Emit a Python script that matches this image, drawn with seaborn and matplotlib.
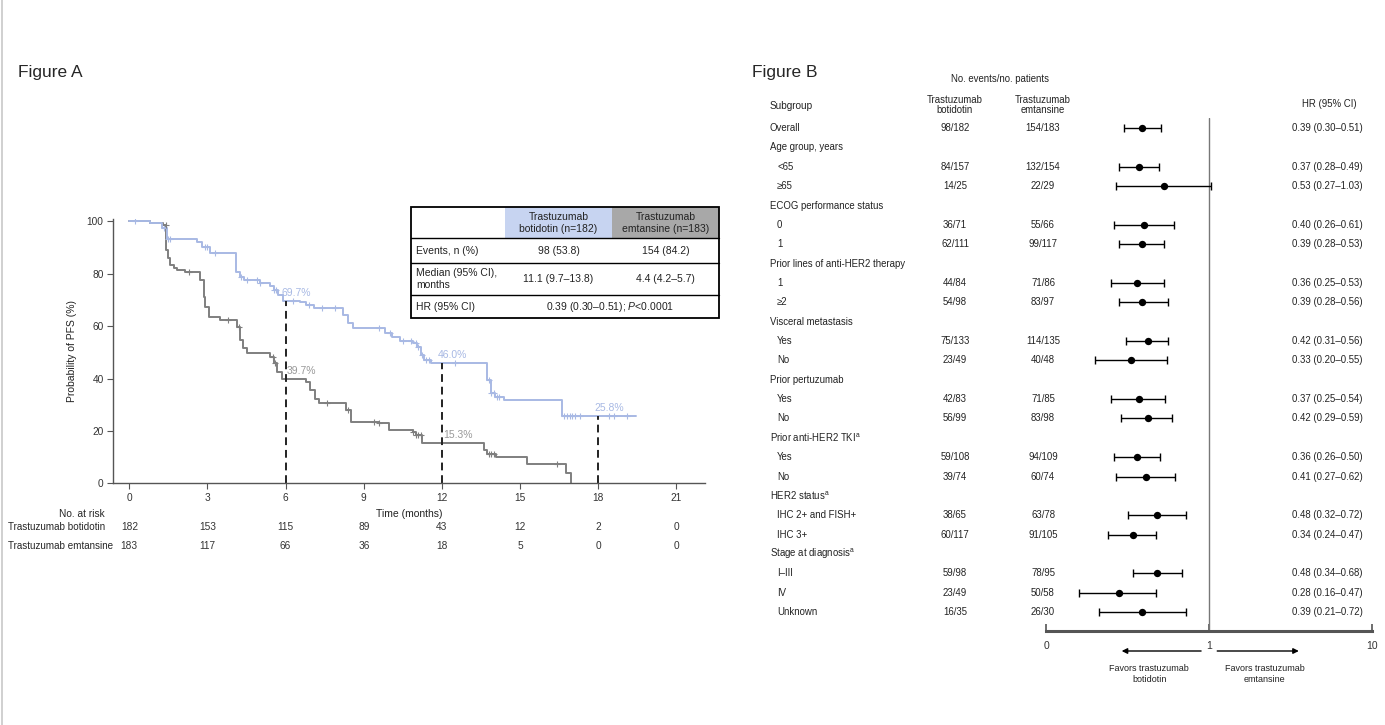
import numpy as np
import pandas as pd
import matplotlib
matplotlib.use("Agg")
import matplotlib.pyplot as plt
import matplotlib.transforms as mtransforms
from matplotlib.lines import Line2D
from matplotlib.patches import Rectangle
from matplotlib.ticker import NullLocator
import seaborn as sns

# ============================
# FIGURE A DATA
# ============================
bot_t = [0, 0.8, 1.25, 1.44, 2.6, 2.8, 3.1, 4.1, 4.26, 4.4, 5.0, 5.4, 5.54, 5.72, 5.9,
         6.56, 6.8, 7.1, 8.2, 8.4, 8.6, 9.8, 10.1, 10.4, 10.9, 11.05, 11.2, 11.3, 11.57,
         13.75, 13.9, 14.05, 14.4, 16.6, 19.45]
bot_s = [100, 99.2, 97.5, 93.1, 92.2, 90.3, 87.8, 80.8, 78.6, 77.5, 76.5, 75.2, 73.8, 71.9, 69.7,
         69.3, 68.0, 66.8, 64.2, 61.0, 59.2, 57.3, 56.0, 54.5, 53.5, 52.0, 49.0, 47.1, 46.0,
         39.4, 34.4, 33.0, 31.8, 25.8, 25.8]
emt_t = [0, 0.8, 1.3, 1.41, 1.5, 1.56, 1.7, 1.82, 2.14, 2.72, 2.85, 2.9, 3.04, 3.5, 4.13, 4.26,
         4.38, 4.5, 5.4, 5.54, 5.67, 5.86, 6.8, 6.95, 7.14, 7.3, 8.3, 8.5, 9.6, 9.96, 10.9, 11.0,
         11.25, 13.6, 13.75, 14.07, 15.28, 16.75, 16.95]
emt_s = [100, 99.2, 98.6, 89.0, 86.0, 83.3, 82.0, 81.4, 80.8, 77.6, 71.2, 67.4, 63.4, 62.3, 59.8, 54.7,
         51.5, 49.9, 48.3, 45.8, 42.6, 39.7, 38.8, 35.6, 32.1, 30.8, 28.0, 23.5, 22.9, 20.4, 19.5, 18.4,
         15.3, 12.7, 11.0, 10.2, 7.2, 3.8, 0]
bot_cens = [0.2, 1.35, 1.5, 1.55, 2.9, 3.0, 3.3, 4.3, 4.5, 4.9, 5.0, 5.55, 5.65, 6.3, 6.9, 7.4,
            7.9, 9.6, 10.0, 10.5, 10.8, 11.0, 11.1, 11.25, 11.4, 11.5, 12.5, 13.8, 13.9, 14.0,
            14.1, 14.2, 16.7, 16.8, 16.9, 17.0, 17.1, 17.3, 18.4, 18.6, 19.1]
emt_cens = [1.4, 2.3, 3.8, 4.2, 5.5, 5.6, 7.6, 8.4, 9.4, 9.6, 10.9, 11.0, 11.1, 11.2, 13.8,
            13.9, 14.0, 16.4]
landmark_t = [6, 12, 18]
bot_landmark = [69.7, 46.0, 25.8]
emt_landmark = [39.7, 15.3]
risk_times = [0, 3, 6, 9, 12, 15, 18, 21]
risk_bot = [182, 153, 115, 89, 43, 12, 2, 0]
risk_emt = [183, 117, 66, 36, 18, 5, 0, 0]
arm_names = ["Trastuzumab botidotin", "Trastuzumab emtansine"]

tab_cols = ["Trastuzumab\nbotidotin (n=182)", "Trastuzumab\nemtansine (n=183)"]
tab_rows = ["Events, n (%)", "Median (95% CI),\nmonths", "HR (95% CI)"]
tab_bot = ["98 (53.8)", "11.1 (9.7\u201313.8)"]
tab_emt = ["154 (84.2)", "4.4 (4.2\u20135.7)"]
tab_hr = "0.39 (0.30\u20130.51); $\\it{P}$<0.0001"

# ============================
# FIGURE B DATA
# ============================
sub_labels = ["Overall", "Age group, years", "<65", "\u226565", "ECOG performance status", "0", "1",
              "Prior lines of anti-HER2 therapy", "1", "\u22652", "Visceral metastasis", "Yes", "No",
              "Prior pertuzumab", "Yes", "No", "Prior anti-HER2 TKI$^{\\mathrm{a}}$", "Yes", "No",
              "HER2 status$^{\\mathrm{a}}$", "IHC 2+ and FISH+", "IHC 3+",
              "Stage at diagnosis$^{\\mathrm{a}}$", "I\u2013III", "IV", "Unknown"]
sub_indent = [0, 0, 1, 1, 0, 1, 1, 0, 1, 1, 0, 1, 1, 0, 1, 1, 0, 1, 1, 0, 1, 1, 0, 1, 1, 1]
bot_n = ["98/182", "", "84/157", "14/25", "", "36/71", "62/111", "", "44/84", "54/98", "",
         "75/133", "23/49", "", "42/83", "56/99", "", "59/108", "39/74", "", "38/65", "60/117",
         "", "59/98", "23/49", "16/35"]
emt_n = ["154/183", "", "132/154", "22/29", "", "55/66", "99/117", "", "71/86", "83/97", "",
         "114/135", "40/48", "", "71/85", "83/98", "", "94/109", "60/74", "", "63/78", "91/105",
         "", "78/95", "50/58", "26/30"]
hr = [0.39, None, 0.37, 0.53, None, 0.40, 0.39, None, 0.36, 0.39, None, 0.42, 0.33, None,
      0.37, 0.42, None, 0.36, 0.41, None, 0.48, 0.34, None, 0.48, 0.28, 0.39]
hr_lo = [0.30, None, 0.28, 0.27, None, 0.26, 0.28, None, 0.25, 0.28, None, 0.31, 0.20, None,
         0.25, 0.29, None, 0.26, 0.27, None, 0.32, 0.24, None, 0.34, 0.16, 0.21]
hr_hi = [0.51, None, 0.49, 1.03, None, 0.61, 0.53, None, 0.53, 0.56, None, 0.56, 0.55, None,
         0.54, 0.59, None, 0.50, 0.62, None, 0.72, 0.47, None, 0.68, 0.47, 0.72]

BLUE = "#a8b9e4"
GRAY = "#7f7f7f"
AXC = "#555555"

sns.set_theme(style="ticks")
plt.rcParams["font.family"] = ["Liberation Sans", "DejaVu Sans"]
plt.rcParams["mathtext.fontset"] = "custom"
plt.rcParams["mathtext.rm"] = "Liberation Sans"
plt.rcParams["mathtext.it"] = "Liberation Sans:italic"

W, H = 1385, 725
fig = plt.figure(figsize=(W / 100, H / 100), dpi=100)


def rect(x0, y0, x1, y1):
    return [x0 / W, 1 - y1 / H, (x1 - x0) / W, (y1 - y0) / H]


fig.add_artist(Line2D([0.0012, 0.0012], [0, 1], color="#c8c8c8", lw=1.2))
fig.text(18 / W, 1 - 72 / H, "Figure A", fontsize=12.5, va="center", ha="left")
fig.text(752 / W, 1 - 72 / H, "Figure B", fontsize=12.5, va="center", ha="left")

# ============================
# FIGURE A: KAPLAN-MEIER
# ============================
ax = fig.add_axes(rect(113.3, 218.7, 705, 483.3))
df_b = pd.DataFrame({"t": bot_t, "s": bot_s})
df_e = pd.DataFrame({"t": emt_t, "s": emt_s})
sns.lineplot(data=df_e, x="t", y="s", drawstyle="steps-post", color=GRAY, lw=1.4,
             estimator=None, ax=ax)
sns.lineplot(data=df_b, x="t", y="s", drawstyle="steps-post", color=BLUE, lw=1.4,
             estimator=None, ax=ax)


def surv_at(times, surv, pts):
    idx = np.searchsorted(np.array(times), np.array(pts), side="right") - 1
    return np.array(surv)[idx]


ax.plot(bot_cens, surv_at(bot_t, bot_s, bot_cens), ls="none", marker="+", ms=5,
        mew=0.8, color=BLUE)
ax.plot(emt_cens, surv_at(emt_t, emt_s, emt_cens), ls="none", marker="+", ms=5,
        mew=0.8, color=GRAY)

ax.vlines(landmark_t, 0, bot_landmark, colors="#222222", linestyles=(0, (4, 2.5)), lw=1.4)
for t, v in zip(landmark_t, bot_landmark):
    ax.text(t - 0.15, v + 3, f"{v:.1f}%", color=BLUE, fontsize=7.5, va="center", ha="left")
for t, v in zip(landmark_t, emt_landmark):
    ax.text(t + 0.05, v + 3, f"{v:.1f}%", color="#999999", fontsize=7.5, va="center", ha="left")

ax.set_xlim(-0.615, 22.1)
ax.set_ylim(0, 101)
ax.set_xticks(risk_times)
ax.set_yticks(range(0, 101, 20))
ax.tick_params(length=4, width=0.8, color=AXC, labelsize=7.3, labelcolor="#333333", pad=3)
for sp in ["top", "right"]:
    ax.spines[sp].set_visible(False)
for sp in ["left", "bottom"]:
    ax.spines[sp].set_color(AXC)
    ax.spines[sp].set_linewidth(1.0)
ax.set_xlabel("Time (months)", fontsize=7.5, labelpad=4, color="#222222")
ax.set_ylabel("Probability of PFS (%)", fontsize=7.5, labelpad=7, color="#222222")

# number at risk
rtr = mtransforms.blended_transform_factory(ax.transData, fig.transFigure)
fig.text(82 / W, 1 - 514 / H, "No. at risk", fontsize=7.3, ha="center", va="center")
for row_y, name, vals in [(527, arm_names[0], risk_bot), (546, arm_names[1], risk_emt)]:
    fig.text(8 / W, 1 - row_y / H, name, fontsize=7.1, ha="left", va="center")
    for t, n in zip(risk_times, vals):
        ax.text(t, 1 - row_y / H, str(n), transform=rtr, fontsize=7.3, ha="center",
                va="center", color="#333333")

# summary table
tab = fig.add_axes(rect(410.7, 207.3, 719.3, 318.3))
tab.set_xlim(410.7, 719.3)
tab.set_ylim(318.3, 207.3)
tab.axis("off")
tab.add_patch(Rectangle((505, 207.3), 107.3, 31, facecolor="#c7d4f1", edgecolor="none"))
tab.add_patch(Rectangle((612.3, 207.3), 107, 31, facecolor="#a8a8a8", edgecolor="none"))
for yy in [238.3, 263.3, 295]:
    tab.plot([410.7, 719.3], [yy, yy], color="black", lw=1.0, clip_on=False)
tab.add_patch(Rectangle((410.7, 207.3), 308.6, 111, fill=False, edgecolor="black", lw=1.3,
                        clip_on=False))
col_x = [558.6, 665.8]
row_y = [250.8, 279.1, 306.6]
for cx, lab in zip(col_x, tab_cols):
    tab.text(cx, 222.8, lab, ha="center", va="center", fontsize=7.5, color="#222222",
             linespacing=1.3)
for ry, lab in zip(row_y, tab_rows):
    tab.text(416, ry, lab, ha="left", va="center", fontsize=7.5, color="#222222",
             linespacing=1.2)
for ry, b, e in zip(row_y, tab_bot, tab_emt):
    tab.text(col_x[0], ry, b, ha="center", va="center", fontsize=7.5, color="#222222")
    tab.text(col_x[1], ry, e, ha="center", va="center", fontsize=7.5, color="#222222")
tab.text(610, row_y[2], tab_hr, ha="center", va="center", fontsize=7.5, color="#222222")

# ============================
# FIGURE B: FOREST PLOT
# ============================
fax = fig.add_axes(rect(1046, 118, 1372, 631))
rows = np.arange(len(sub_labels))
forest = pd.DataFrame({"row": rows, "hr": hr, "lo": hr_lo, "hi": hr_hi}).dropna()
forest = forest.astype(float)
fax.errorbar(forest["hr"], forest["row"],
             xerr=[forest["hr"] - forest["lo"], forest["hi"] - forest["hr"]],
             fmt="none", ecolor="black", elinewidth=1.0, capsize=3, capthick=1.0, zorder=2)
sns.scatterplot(data=forest, x="hr", y="row", color="black", s=28, edgecolor="black",
                linewidth=0, zorder=3, ax=fax, legend=False)
fax.axvline(1, color="#777777", lw=1.0, zorder=1)
fax.set_xscale("log")
fax.set_xlim(0.1, 10)
fax.set_ylim(25.98, -0.52)
fax.set_xticks([0.1, 1, 10])
fax.set_xticklabels(["0", "1", "10"])
fax.xaxis.set_minor_locator(NullLocator())
fax.set_yticks([])
fax.set_xlabel("")
fax.set_ylabel("")
for sp in ["top", "right", "left"]:
    fax.spines[sp].set_visible(False)
fax.spines["bottom"].set_color(AXC)
fax.spines["bottom"].set_linewidth(2.2)
fax.tick_params(axis="x", direction="in", length=5, width=1.2, color=AXC, labelsize=7.5,
                pad=7, labelcolor="#333333")

ftr = mtransforms.blended_transform_factory(fig.transFigure, fax.transData)
fs = 6.9
for i, lab in enumerate(sub_labels):
    fax.text((770 + 7 * sub_indent[i]) / W, i, lab, transform=ftr, fontsize=fs,
             ha="left", va="center", color="#222222")
    if bot_n[i]:
        fax.text(955 / W, i, bot_n[i], transform=ftr, fontsize=fs, ha="center",
                 va="center", color="#222222")
        fax.text(1043 / W, i, emt_n[i], transform=ftr, fontsize=fs, ha="center",
                 va="center", color="#222222")
    if hr[i] is not None:
        fax.text(1363 / W, i, f"{hr[i]:.2f} ({hr_lo[i]:.2f}\u2013{hr_hi[i]:.2f})",
                 transform=ftr, fontsize=fs, ha="right", va="center", color="#222222")

fax.text(1000 / W, -2.53, "No. events/no. patients", transform=ftr, fontsize=fs,
         ha="center", va="center", color="#222222")
fax.text(770 / W, -1.14, "Subgroup", transform=ftr, fontsize=fs + 0.3, ha="left",
         va="center", color="#222222")
fax.text(955 / W, -1.19, "Trastuzumab\nbotidotin", transform=ftr, fontsize=fs,
         ha="center", va="center", color="#222222", linespacing=1.1)
fax.text(1043 / W, -1.19, "Trastuzumab\nemtansine", transform=ftr, fontsize=fs,
         ha="center", va="center", color="#222222", linespacing=1.1)
fax.text(1357 / W, -1.24, "HR (95% CI)", transform=ftr, fontsize=fs, ha="right",
         va="center", color="#222222")

arrow_y = (631 - 651) / 513
fax.annotate("", xy=(0.28, arrow_y), xytext=(0.93, arrow_y),
             xycoords=("data", "axes fraction"), annotation_clip=False,
             arrowprops=dict(arrowstyle="-|>", color="black", lw=1.0, mutation_scale=8))
fax.annotate("", xy=(3.7, arrow_y), xytext=(1.08, arrow_y),
             xycoords=("data", "axes fraction"), annotation_clip=False,
             arrowprops=dict(arrowstyle="-|>", color="black", lw=1.0, mutation_scale=8))
favor_y = (631 - 674) / 513
fax.text(0.43, favor_y, "Favors trastuzumab\nbotidotin", transform=fax.get_xaxis_transform(),
         fontsize=fs - 0.4, ha="center", va="center", linespacing=1.2, color="#222222")
fax.text(2.2, favor_y, "Favors trastuzumab\nemtansine", transform=fax.get_xaxis_transform(),
         fontsize=fs - 0.4, ha="center", va="center", linespacing=1.2, color="#222222")

fig.savefig("out.png", dpi=100)
